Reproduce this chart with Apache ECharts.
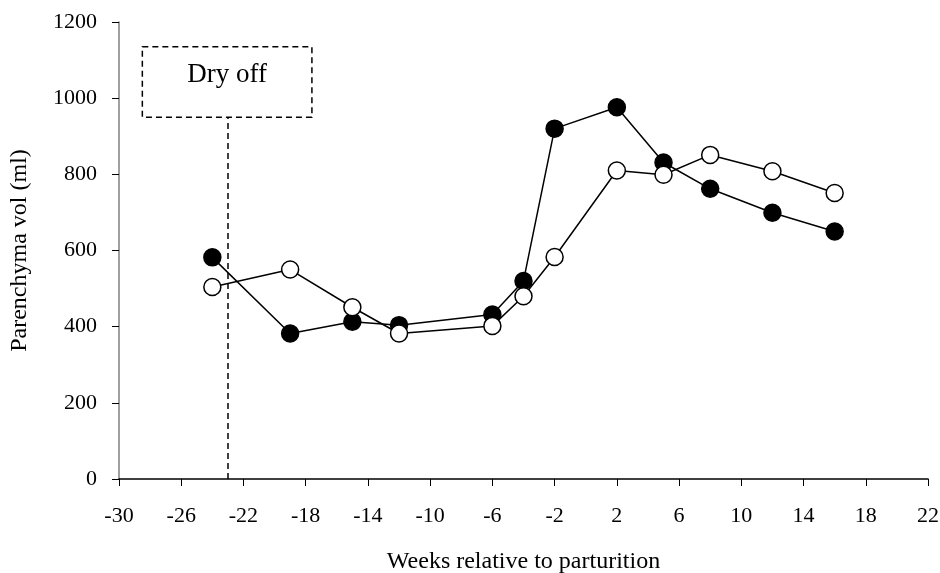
<!DOCTYPE html>
<html><head><meta charset="utf-8">
<script src="https://cdn.jsdelivr.net/npm/echarts@6/dist/echarts.min.js"></script>
<style>html,body{margin:0;padding:0;background:#fff}#c{width:940px;height:573px}</style>
</head><body><div id="c"></div>
<script>
var weeks = [-24, -19, -15, -12, -6, -4, -2, 2, 5, 8, 12, 16];
var filledVals = [582, 382, 413, 404, 432, 520, 920, 976, 831, 762, 699, 650];
var openVals = [504, 550, 451, 382, 402, 480, 583, 810, 799, 851, 808, 751];
var xTicks = {min: -30, max: 22, interval: 4};
var yTicks = {min: 0, max: 1200, interval: 200};
var dryOffWeek = -23;
var dryOffBox = {x0: -28.5, x1: -17.6, y0: 950, y1: 1135};
var xTitle = 'Weeks relative to parturition';
var yTitle = 'Parenchyma vol (ml)';
var boxLabel = 'Dry off';

function pairs(xs, ys){ return xs.map(function(x,i){ return [x, ys[i]]; }); }
var font = '"Liberation Serif", "Times New Roman", serif';
var chart = echarts.init(document.getElementById('c'));
chart.setOption({
  animation: false,
  backgroundColor: '#fff',
  grid: {left: 119, right: 12, top: 22, bottom: 94, containLabel: false, outerBoundsMode: 'none'},
  xAxis: {
    type: 'value', min: xTicks.min, max: xTicks.max, interval: xTicks.interval,
    name: xTitle, nameLocation: 'middle', nameGap: 71,
    nameTextStyle: {fontFamily: font, fontSize: 24, color: '#000'},
    axisLine: {show: true, onZero: false, lineStyle: {color: '#000', width: 1.5}},
    axisTick: {show: true, inside: false, length: 7, lineStyle: {color: '#000', width: 1}},
    axisLabel: {fontFamily: font, fontSize: 22, color: '#000', margin: 26},
    splitLine: {show: false}
  },
  yAxis: {
    type: 'value', min: yTicks.min, max: yTicks.max, interval: yTicks.interval,
    name: yTitle, nameLocation: 'middle', nameGap: 87, nameRotate: 90,
    nameTextStyle: {fontFamily: font, fontSize: 24, color: '#000'},
    axisLine: {show: true, onZero: false, lineStyle: {color: '#808080', width: 1.5}},
    axisTick: {show: true, inside: false, length: 7, lineStyle: {color: '#000', width: 1}},
    axisLabel: {fontFamily: font, fontSize: 22, color: '#000', margin: 22, formatter: function(v){ return String(v); }},
    splitLine: {show: false}
  },
  series: [
    {
      type: 'line', data: pairs(weeks, openVals), symbol: 'circle', symbolSize: 17,
      lineStyle: {color: '#000', width: 1.5},
      itemStyle: {color: '#fff', borderColor: '#000', borderWidth: 1.5},
      z: 3,
      markLine: {
        silent: true, symbol: 'none', animation: false,
        lineStyle: {color: '#000', type: [6, 4], width: 1.5},
        label: {show: false},
        data: [[{coord: [dryOffWeek, 0]}, {coord: [dryOffWeek, dryOffBox.y0]}]]
      },
      markArea: {
        silent: true,
        itemStyle: {color: '#fff', borderColor: '#000', borderWidth: 1.5, borderType: [6, 4]},
        label: {show: true, position: 'inside', formatter: boxLabel, fontFamily: font, fontSize: 27, color: '#000', offset: [0, -7]},
        data: [[{coord: [dryOffBox.x0, dryOffBox.y1]}, {coord: [dryOffBox.x1, dryOffBox.y0]}]]
      }
    },
    {
      type: 'line', data: pairs(weeks, filledVals), symbol: 'circle', symbolSize: 17,
      lineStyle: {color: '#000', width: 1.5},
      itemStyle: {color: '#000', borderColor: '#000', borderWidth: 1.5},
      z: 2
    }
  ]
});
</script></body></html>
